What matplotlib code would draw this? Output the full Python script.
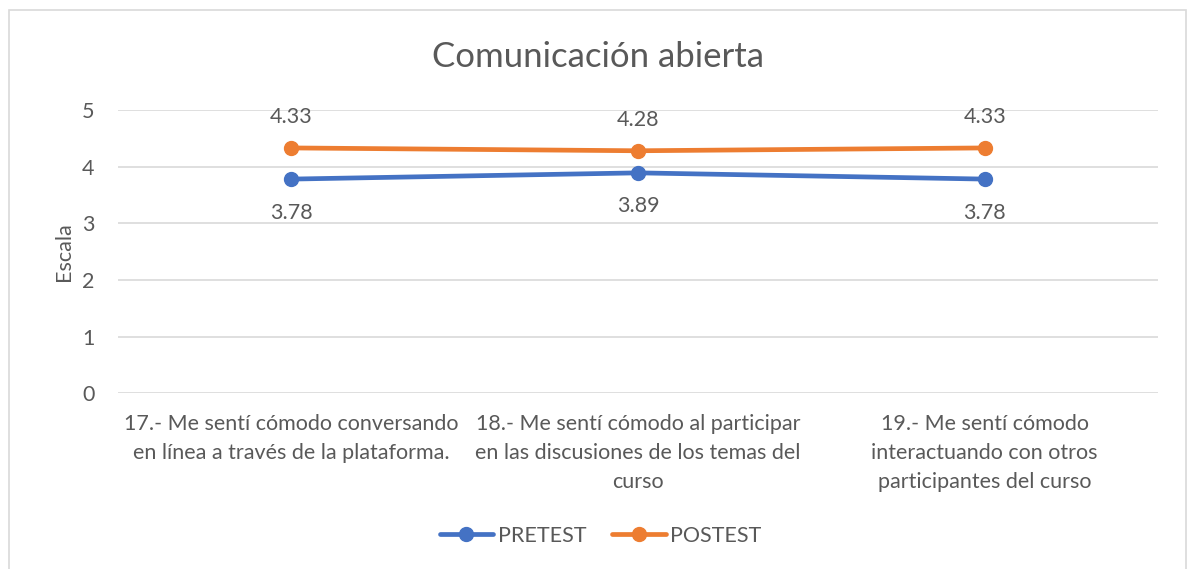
import matplotlib.pyplot as plt
import matplotlib.patches as patches

# Datos
categorias = [
    "17.- Me sentí cómodo conversando\nen línea a través de la plataforma.",
    "18.- Me sentí cómodo al participar\nen las discusiones de los temas del\ncurso",
    "19.- Me sentí cómodo\ninteractuando con otros\nparticipantes del curso",
]
pretest = [3.78, 3.89, 3.78]
postest = [4.33, 4.28, 4.33]

AZUL = "#4472C4"
NARANJA = "#ED7D31"
GRIS_TXT = "#595959"
GRIS_GRID = "#D9D9D9"

plt.rcParams['font.family'] = ['Lato', 'DejaVu Sans']

fig = plt.figure(figsize=(11.89, 5.69), dpi=100)
ax = fig.add_axes([0.0992, 0.309, 0.8748, 0.4977])

x = list(range(len(categorias)))
ax.plot(x, pretest, color=AZUL, lw=3.4, marker='o', ms=10, label='PRETEST',
        solid_capstyle='round', zorder=3)
ax.plot(x, postest, color=NARANJA, lw=3.4, marker='o', ms=10, label='POSTEST',
        solid_capstyle='round', zorder=3)

for xi, v in zip(x, pretest):
    ax.annotate(f"{v:.2f}", (xi, v), xytext=(0, -17), textcoords='offset points',
                ha='center', va='top', fontsize=15.5, color=GRIS_TXT)
for xi, v in zip(x, postest):
    ax.annotate(f"{v:.2f}", (xi, v), xytext=(0, 15), textcoords='offset points',
                ha='center', va='bottom', fontsize=15.5, color=GRIS_TXT)

ax.set_xlim(-0.5, 2.5)
ax.set_ylim(0, 5)
ax.set_yticks([0, 1, 2, 3, 4, 5])
ax.set_xticks(x)
ax.set_xticklabels(categorias, fontsize=15.5, color=GRIS_TXT, linespacing=1.55)
ax.tick_params(axis='y', labelsize=15.5, labelcolor=GRIS_TXT, length=0, pad=17)
ax.tick_params(axis='x', length=0, pad=15)
ax.grid(axis='y', color=GRIS_GRID, lw=1.2)
ax.set_axisbelow(True)
for s in ax.spines.values():
    s.set_visible(False)

ax.set_ylabel("Escala", fontsize=15.5, color=GRIS_TXT, labelpad=6)

fig.text(0.503, 0.9, "Comunicación abierta", ha='center', va='center',
         fontsize=25, color=GRIS_TXT)

leg = fig.legend(loc='center', bbox_to_anchor=(0.505, 0.058), ncol=2, frameon=False,
                 fontsize=15.5, handlelength=2.5, columnspacing=1.2, handletextpad=0.2)
for t in leg.get_texts():
    t.set_color(GRIS_TXT)

# Marco del gráfico
borde = patches.Rectangle((9 / 1189, -0.05), 1177 / 1189, 1 - 10 / 569 + 0.05,
                          transform=fig.transFigure, fill=False,
                          edgecolor=GRIS_GRID, lw=1.2)
fig.patches.append(borde)

fig.savefig("out.png", dpi=100)
